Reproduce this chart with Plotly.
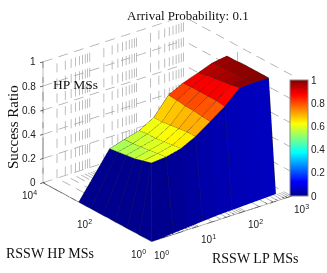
import math
import plotly.graph_objects as go

# --- data ---
x_levels = [1.41, 2.9, 6.0, 12.3, 25.4, 52, 108, 220, 450]
y_levels = [1.82, 3.7, 7.5, 15.3, 31, 63]
y_skirt = [1, 2.8, 7.8, 22, 61, 171, 480]
z_skirt_x = [0, 0.0, 0.01, 0.02, 0.03, 0.04, 0.045, 0.05, 0.055, 0.06]
z_row0 = [0.60, 0.61, 0.64, 0.70, 0.785, 0.87, 0.985, 0.99, 0.99]
z_row1 = [0.58, 0.60, 0.63, 0.70, 0.79, 0.88, 0.97, 0.985, 0.99]
z_row2 = [0.56, 0.59, 0.62, 0.69, 0.80, 0.88, 0.96, 0.98, 0.99]
z_row3 = [0.55, 0.58, 0.61, 0.68, 0.80, 0.88, 0.95, 0.975, 0.99]
z_row4 = [0.54, 0.57, 0.61, 0.67, 0.81, 0.88, 0.94, 0.97, 0.985]
z_row5 = [0.53, 0.567, 0.60, 0.67, 0.816, 0.877, 0.92, 0.965, 0.984]
x_major = [1, 10, 100, 1000]
x_minor_mult = [2, 3, 4, 5, 6, 7, 8, 9]
y_major = [1, 100, 10000]
z_ticks = [0, 0.2, 0.4, 0.6, 0.8, 1]
z_labels = ["0", "0.2", "0.4", "0.6", "0.8", "1"]
x_tick_labels = ["10<sup>0</sup>", "10<sup>1</sup>", "10<sup>2</sup>", "10<sup>3</sup>"]
y_tick_labels = ["10<sup>0</sup>", "10<sup>2</sup>", "10<sup>4</sup>"]
jet = [[0, "rgb(0,0,143)"], [0.125, "rgb(0,0,255)"], [0.375, "rgb(0,255,255)"],
       [0.625, "rgb(255,255,0)"], [0.875, "rgb(255,0,0)"], [1, "rgb(128,0,0)"]]

z_rows = [z_row0, z_row1, z_row2, z_row3, z_row4, z_row5]
X = [[1] + x_levels] + [[1] + x_levels for _ in y_levels]
Y = [[1] + [1] * len(x_levels)] + [[y_skirt[i + 1]] + [v] * len(x_levels) for i, v in enumerate(y_levels)]
Z = [z_skirt_x] + [[0] + r for r in z_rows]
nr, nc = len(Z), len(Z[0])

vx, vy, vz, ti, tj, tk, inten = [], [], [], [], [], [], []
for r in range(nr):
    for c in range(nc):
        vx.append(X[r][c]); vy.append(Y[r][c]); vz.append(Z[r][c])
for r in range(nr - 1):
    for c in range(nc - 1):
        a, b, d, e = r * nc + c, r * nc + c + 1, (r + 1) * nc + c, (r + 1) * nc + c + 1
        ti += [a, a]; tj += [b, e]; tk += [e, d]
        inten += [Z[r][c], Z[r][c]]

fig = go.Figure()
fig.add_trace(go.Mesh3d(
    x=vx, y=vy, z=vz, i=ti, j=tj, k=tk, intensity=inten, intensitymode="cell",
    colorscale=jet, cmin=0, cmax=1, flatshading=True, hoverinfo="skip",
    lighting=dict(ambient=1, diffuse=0, specular=0, fresnel=0, roughness=1),
    colorbar=dict(thickness=18, thicknessmode="pixels", len=116, lenmode="pixels",
                  x=290 / 327, xanchor="left", xpad=0, y=1 - 80 / 273, yanchor="top", ypad=0,
                  tickvals=z_ticks, ticks="", tickfont=dict(family="Liberation Sans", size=10, color="#222"),
                  outlinecolor="#888", outlinewidth=1, ticklen=0),
))

def lines(segs, color, width=1):
    xs, ys, zs = [], [], []
    for p, q in segs:
        xs += [p[0], q[0], None]; ys += [p[1], q[1], None]; zs += [p[2], q[2], None]
    fig.add_trace(go.Scatter3d(x=xs, y=ys, z=zs, mode="lines", line=dict(color=color, width=width),
                               hoverinfo="skip", showlegend=False))

def dashed(p, q, periods):
    """Split a grid line (log in x and y, linear in z) into MATLAB-style dashes."""
    out = []
    def at(t):
        return (p[0] ** (1 - t) * q[0] ** t, p[1] ** (1 - t) * q[1] ** t, p[2] + (q[2] - p[2]) * t)
    for n in range(periods):
        out.append((at(n / periods), at((n + 0.6) / periods)))
    return out

# mesh edges
edges = []
wall_cols = [0, 2, 4, 6, 9]
for r in range(1, nr):
    for c in range(1, nc - 1):
        edges.append(((X[r][c], Y[r][c], Z[r][c]), (X[r][c + 1], Y[r][c + 1], Z[r][c + 1])))
for c in range(1, nc):
    for r in range(1, nr - 1):
        edges.append(((X[r][c], Y[r][c], Z[r][c]), (X[r + 1][c], Y[r + 1][c], Z[r + 1][c])))
for c in wall_cols:
    edges.append(((X[0][c], Y[0][c], Z[0][c]), (X[1][max(c, 1)], Y[1][max(c, 1)], Z[1][max(c, 1)])))
for r in range(1, nr):
    edges.append(((X[r][0], Y[r][0], Z[r][0]), (X[r][1], Y[r][1], Z[r][1])))
lines(edges, "#2a2a2a", 1)

# grid
xmax, ymax = x_major[-1], y_major[-1]
all_x = []
for d in x_major[:-1]:
    all_x += [d * m for m in ([1] + x_minor_mult)]
all_x.append(1000)
grid = []
for xv in all_x:
    grid += dashed((xv, ymax, 0), (xv, ymax, 1), 8)
    grid += dashed((xv, 1, 0), (xv, ymax, 0), 8)
for yv in y_major:
    grid += dashed((xmax, yv, 0), (xmax, yv, 1), 8)
    grid += dashed((1, yv, 0), (xmax, yv, 0), 9)
for zv in z_ticks:
    grid += dashed((1, ymax, zv), (xmax, ymax, zv), 9)
    grid += dashed((xmax, 1, zv), (xmax, ymax, zv), 8)
lines(grid, "#a8a8a8", 1.5)

# axes and tick marks
ax = [((1, 1, 0), (xmax, 1, 0)), ((1, 1, 0), (1, ymax, 0)), ((1, ymax, 0), (1, ymax, 1))]
for xv in all_x:
    ax.append(((xv, 1, 0), (xv, 1.25, 0)))
for yv in y_major:
    ax.append(((1, yv, 0), (1.12, yv, 0)))
for zv in z_ticks:
    ax.append(((0.87, ymax, zv), (1, ymax, zv)))
lines(ax, "#444444", 1.5)

PAD = 0.02
xr = [-0.08, 3 + PAD]
yr = [-PAD, 4 + PAD]
zr = [-0.01, 1.01]
ann = []
TICK = dict(family="Liberation Sans", size=10, color="#222")
for v, t in zip(x_major, x_tick_labels):
    ann.append(dict(x=math.log10(v), y=0, z=0, text=t, showarrow=False, xshift=10, yshift=-13, font=TICK))
for v, t in zip(y_major, y_tick_labels):
    ann.append(dict(x=0, y=math.log10(v), z=0, text=t, showarrow=False, xshift=-13, yshift=-12, font=TICK))
for v, t in zip(z_ticks, z_labels):
    ann.append(dict(x=0, y=4, z=v, text=t, showarrow=False, xanchor="right", xshift=-5, font=TICK))

R = 1.54
K = 1.3
S = 175 / K
sinT, cosT, p, q = 0.419, 0.908, 0.611, 0.791
rv = (q, -p, 0)
uv = (sinT * p, sinT * q, cosT)
PAN_R, PAN_U = 2.5, 7
cen = [-(PAN_R * rv[i] + PAN_U * uv[i]) / S for i in range(3)]
e0 = (-0.555 * R, -0.718 * R, 0.419 * R)
axis = dict(visible=False, type="log", autorange=False)
fig.update_layout(
    width=327, height=273, margin=dict(l=0, r=0, t=0, b=0), paper_bgcolor="white",
    showlegend=False,
    scene=dict(
        domain=dict(x=[0, 1], y=[0, 1]),
        xaxis=dict(axis, range=xr), yaxis=dict(axis, range=yr),
        zaxis=dict(visible=False, range=zr, autorange=False),
        aspectmode="manual",
        aspectratio=dict(x=K * (xr[1] - xr[0]) / 3, y=K * (yr[1] - yr[0]) / 4, z=K * 0.75 * (zr[1] - zr[0])),
        camera=dict(eye=dict(x=e0[0] + cen[0], y=e0[1] + cen[1], z=e0[2] + cen[2]),
                    center=dict(x=cen[0], y=cen[1], z=cen[2]),
                    up=dict(x=0, y=0, z=1), projection=dict(type="orthographic")),
        annotations=ann,
    ),
    annotations=[
        dict(text="Arrival Probability: 0.1", x=188, y=15, font=dict(family="Liberation Serif", size=13, color="#111")),
        dict(text="HP MSs", x=75, y=84, font=dict(family="Liberation Serif", size=13.5, color="#111")),
        dict(text="RSSW HP MSs", x=50, y=253, font=dict(family="Liberation Serif", size=14, color="#111")),
        dict(text="RSSW LP MSs", x=255, y=258, font=dict(family="Liberation Serif", size=14, color="#111")),
        dict(text="Success Ratio", x=13, y=127, textangle=-90, font=dict(family="Liberation Serif", size=15, color="#111")),
    ],
)
for a in fig.layout.annotations:
    a.update(xref="paper", yref="paper", x=a.x / 327, y=1 - a.y / 273, showarrow=False,
             xanchor="center", yanchor="middle")
fig.write_html("out.html", post_script="document.body.style.margin='0';", config={"displayModeBar": False})
